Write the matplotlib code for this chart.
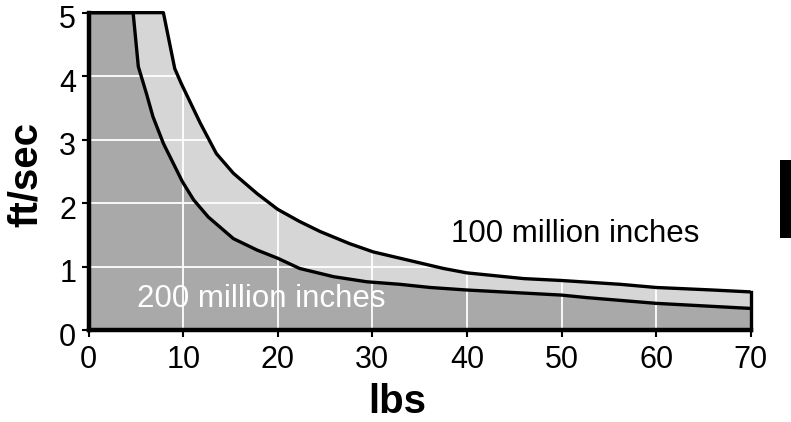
import matplotlib
matplotlib.use("Agg")
import matplotlib.pyplot as plt
from matplotlib.patches import Rectangle
import matplotlib.transforms as mtransforms

plt.rcParams['font.family'] = ['Liberation Sans', 'DejaVu Sans']

# 100 million inches (upper curve)
x_100 = [0, 7.9, 9.1, 9.8, 11.8, 13.5, 15.3, 17.8, 20.0, 22.3, 24.5, 27.6, 30.1,
         37.5, 40.0, 46.0, 50.0, 56.2, 60.0, 66.0, 70.0]
y_100 = [5.0, 5.0, 4.12, 3.88, 3.26, 2.78, 2.47, 2.15, 1.90, 1.71, 1.55, 1.36, 1.23,
         0.97, 0.90, 0.81, 0.78, 0.72, 0.67, 0.63, 0.60]

# 200 million inches (lower curve)
x_200 = [0, 4.7, 5.25, 6.1, 6.8, 7.9, 9.9, 11.1, 12.65, 15.3, 17.8, 20.0, 22.3,
         25.9, 29.4, 32.9, 36.1, 40.0, 50.0, 52.7, 60.0, 70.0]
y_200 = [5.0, 5.0, 4.15, 3.73, 3.36, 2.94, 2.34, 2.05, 1.78, 1.44, 1.26, 1.13, 0.97,
         0.84, 0.76, 0.72, 0.67, 0.63, 0.55, 0.51, 0.42, 0.34]

x_ticks = [0, 10, 20, 30, 40, 50, 60, 70]
y_ticks = [0, 1, 2, 3, 4, 5]

fig = plt.figure(figsize=(7.91, 4.22), dpi=100)
ax = fig.add_axes([0.1121, 0.218, 0.949 - 0.1121, 0.970 - 0.218])

light = '#d6d6d6'
dark = '#a9a9a9'

ax.fill_between(x_100, 0, y_100, facecolor=light, edgecolor='none', zorder=1)
ax.fill_between(x_200, 0, y_200, facecolor=dark, edgecolor='none', zorder=1.1)

for v in y_ticks[1:-1]:
    ax.axhline(v, color='white', lw=1.3, zorder=2)
for v in x_ticks[1:-1]:
    ax.axvline(v, color='white', lw=1.3, zorder=2)

ax.plot(x_100, y_100, color='black', lw=2.4, zorder=3, clip_on=False,
        solid_joinstyle='round', solid_capstyle='butt')
ax.plot(x_200, y_200, color='black', lw=2.4, zorder=3, clip_on=False,
        solid_joinstyle='round')
ax.plot([x_100[-1], x_100[-1]], [0, y_100[-1]], color='black', lw=2.4, zorder=3,
        clip_on=False)

ax.text(51.4, 1.39, '100 million inches', fontsize=22.5, color='black',
        ha='center', va='baseline', zorder=4)
ax.text(18.3, 0.37, '200 million inches', fontsize=22.5, color='white',
        ha='center', va='baseline', zorder=1.5)

ax.set_xlim(0, 70)
ax.set_ylim(0, 5)
ax.set_xticks(x_ticks)
ax.set_yticks(y_ticks)
ax.tick_params(axis='both', labelsize=22, length=5, width=1.5, direction='out')
ax.tick_params(axis='x', pad=6)
ax.tick_params(axis='y', pad=4)

offset = mtransforms.ScaledTranslation(0, -4 / 100, fig.dpi_scale_trans)
for lbl in ax.get_yticklabels():
    lbl.set_transform(lbl.get_transform() + offset)

for s in ['top', 'right']:
    ax.spines[s].set_visible(False)
for s in ['left', 'bottom']:
    ax.spines[s].set_linewidth(3.2)
    ax.spines[s].set_zorder(5)

ax.set_xlabel('lbs', fontsize=29, fontweight='bold')
ax.set_ylabel('ft/sec', fontsize=29, fontweight='bold')
ax.xaxis.set_label_coords(0.466, -0.168)
ax.yaxis.set_label_coords(-0.066, 0.49)

fig.patches.append(Rectangle((780 / 791, (422 - 238.3) / 422), 12 / 791, 78.3 / 422,
                             transform=fig.transFigure, facecolor='black',
                             edgecolor='none'))

fig.savefig('out.png', dpi=100)
